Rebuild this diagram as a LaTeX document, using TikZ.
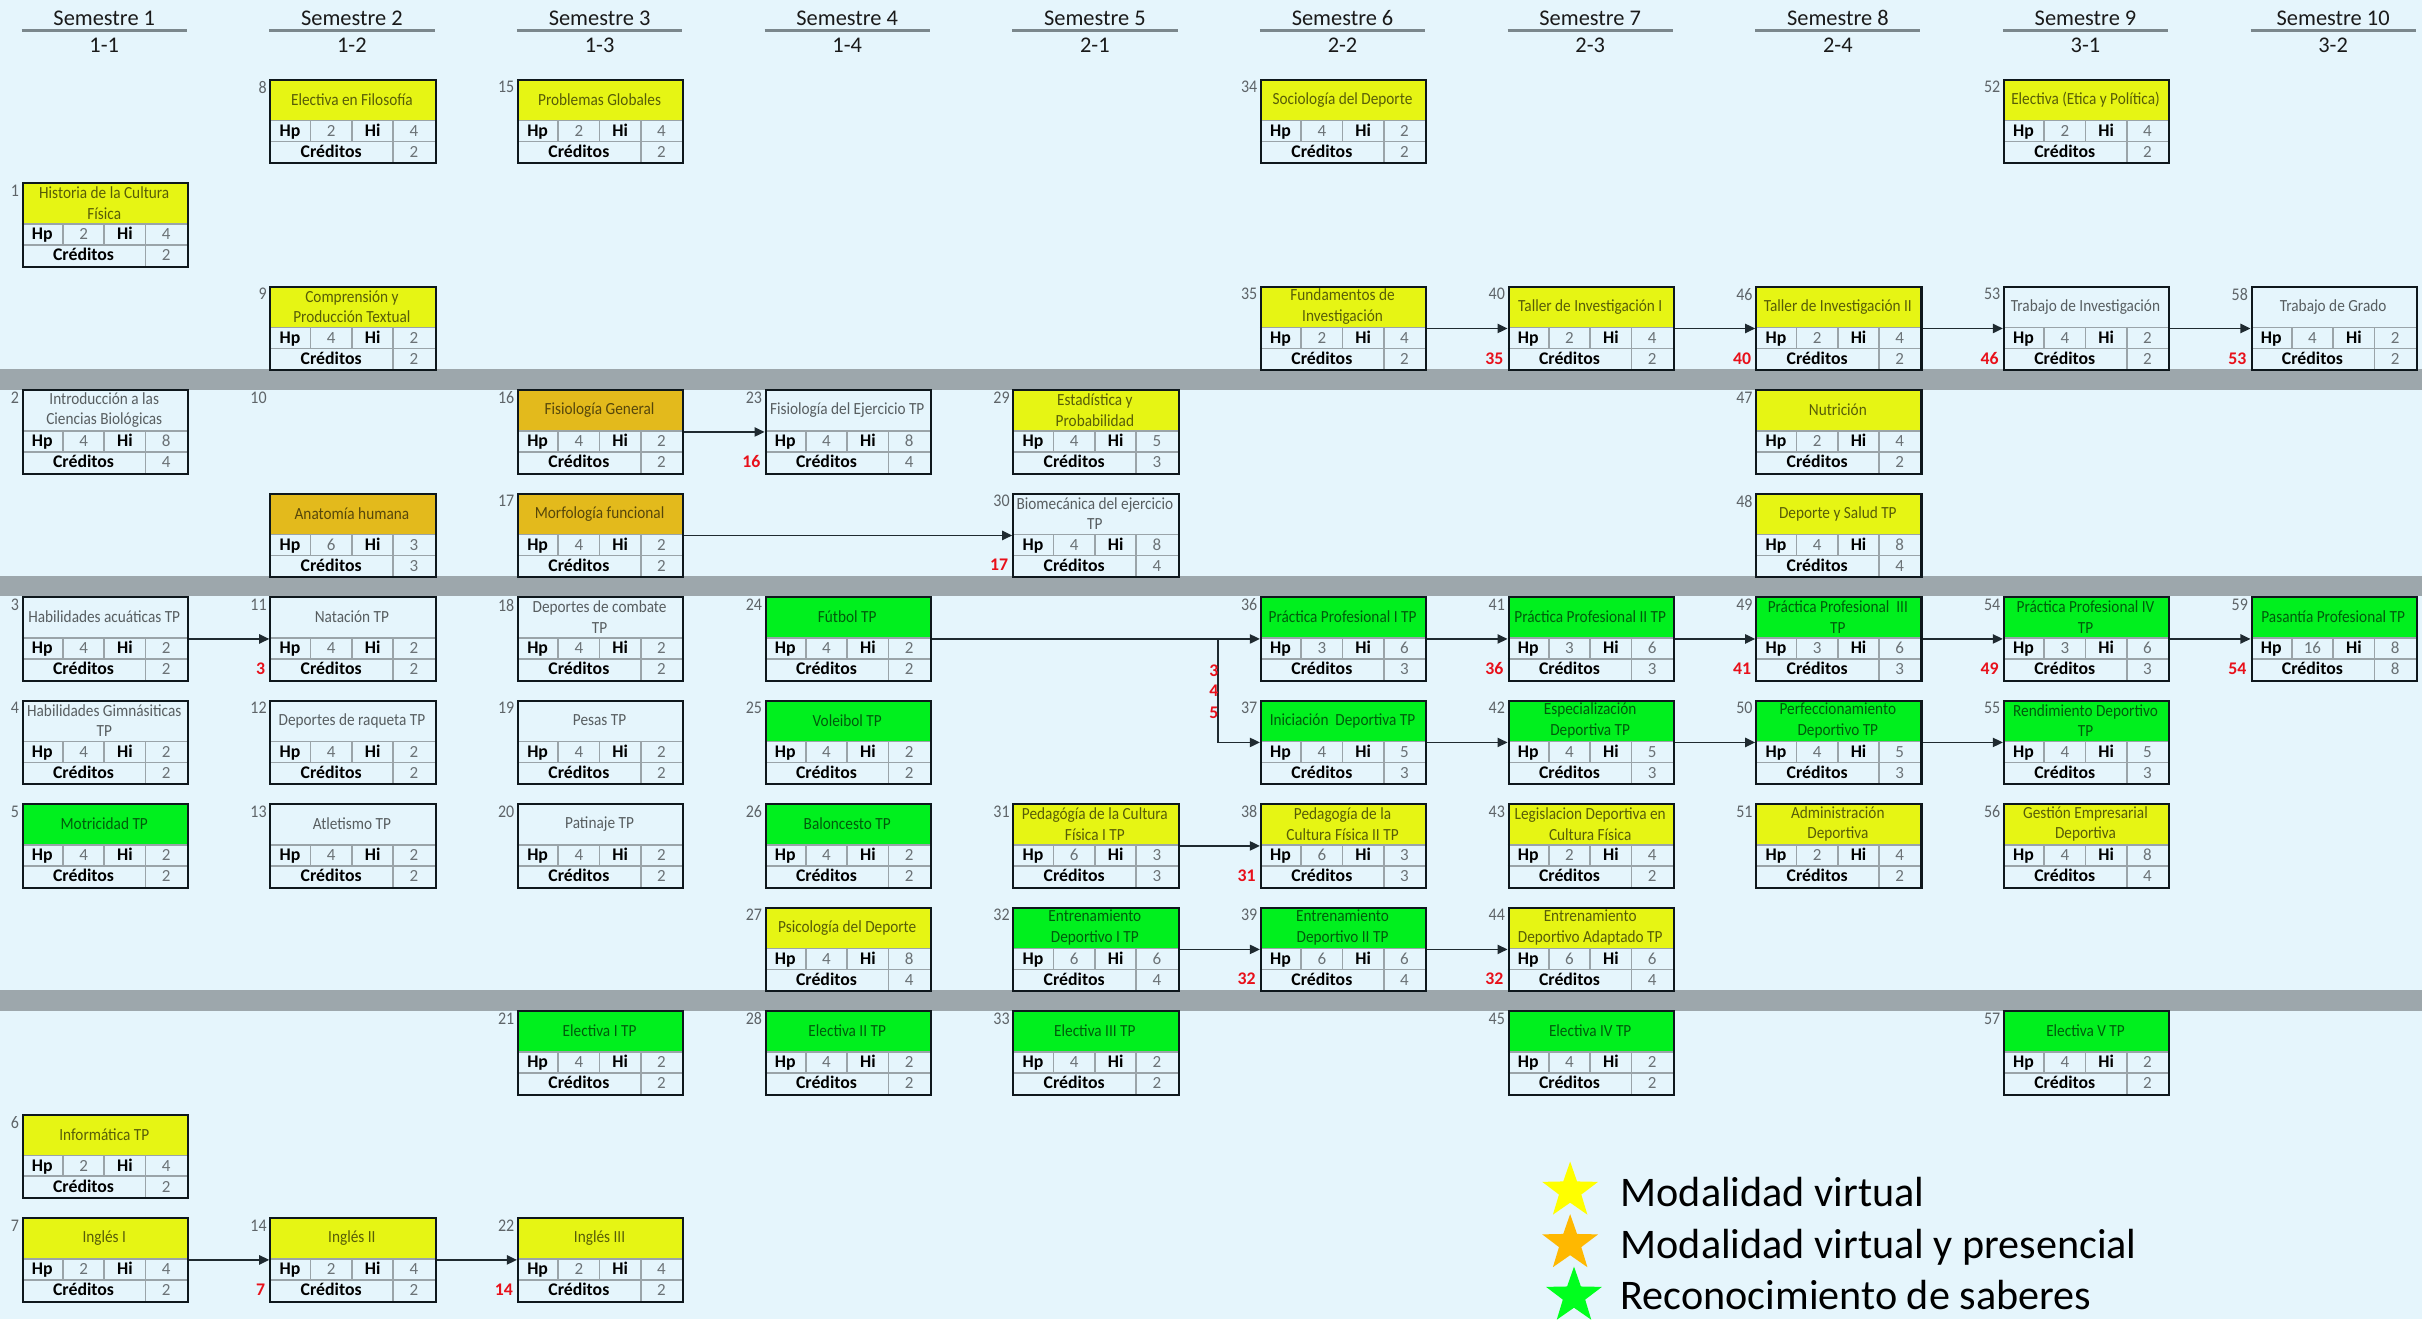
\documentclass[tikz,border=0pt]{standalone}
\usepackage{fontspec}
\setmainfont{Carlito}
\newfontfamily\tfont[FakeStretch=0.9]{Carlito}
\usetikzlibrary{arrows.meta,shapes.geometric,calc}
\definecolor{bgc}{HTML}{E5F5FC}
\definecolor{bandc}{HTML}{9DA7AC}
\definecolor{yel}{HTML}{E6F514}
\definecolor{grn}{HTML}{00F01E}
\definecolor{org}{HTML}{E3BA1C}
\definecolor{innerc}{HTML}{9AA4A9}
\definecolor{boxline}{HTML}{0E171C}
\definecolor{arrowc}{HTML}{1F2A30}
\definecolor{hdlc}{HTML}{7B878C}
\definecolor{valc}{HTML}{6B7276}
\definecolor{lblc}{HTML}{5E6468}
\definecolor{prered}{HTML}{E8101A}
\definecolor{hdrc}{HTML}{1A1A1A}
\definecolor{sy}{HTML}{FFFF00}
\definecolor{so}{HTML}{FFB800}
\definecolor{sg}{HTML}{00FF1E}
\tikzset{
 box/.style={draw=boxline,line width=1.3pt,minimum width=107pt,minimum height=54pt,inner sep=0pt},
 cellline/.style={draw=innerc,line width=1pt},
 ttl/.style={font=\tfont\fontsize{11}{13.2}\selectfont,text=black,text opacity=0.62,align=center,inner sep=0pt},
 hd/.style={font=\bfseries\fontsize{11.5}{13}\selectfont,text=black,inner sep=0pt,anchor=base},
 val/.style={font=\fontsize{11}{13}\selectfont,text=valc,inner sep=0pt,anchor=base},
 lbl/.style={font=\tfont\fontsize{11.5}{13}\selectfont,text=lblc,inner sep=0pt,anchor=north east},
 pre/.style={font=\bfseries\fontsize{11.5}{13}\selectfont,text=prered,inner sep=0pt,anchor=base east},
 arr/.style={draw=arrowc,line width=1pt,-{Triangle[length=6.5pt,width=6pt]}},
 hdr/.style={font=\fontsize{14.5}{16}\selectfont,text=hdrc,inner sep=0pt,anchor=base},
 hdl/.style={draw=hdlc,line width=2pt},
 leg/.style={font=\fontsize{27.3}{30}\selectfont,text=black,inner sep=0pt,anchor=base west},
 legstar/.style={star,star points=5,star point ratio=2.5,inner sep=0pt,minimum size=38pt,draw=none},
}
% #1 name, #2 label, #3 column, #4 row, #5 colour, #6 title, #7 Hp, #8 Hi, #9 creditos
\newcommand\subj[9]{%
 \pgfmathsetmacro\cx{14+160.33*(#3-1)}%
 \pgfmathsetmacro\cy{51+67*#4}%
 \begin{scope}[shift={(\cx,\cy)}]
  \fill[bgc] (0,0) rectangle (107,54);
  \fill[#5] (0,0) rectangle (107,27);
  \draw[cellline] (0,27) -- (107,27) (0,40.5) -- (107,40.5)
    (26.75,27) -- (26.75,40.5) (53.5,27) -- (53.5,40.5) (80.25,27) -- (80.25,54);
  \node[ttl] (#1t) at (53.5,13.5) {#6};
  \node[hd] (#1a) at (13.4,37.3) {Hp};
  \node[val] (#1b) at (40.1,37.3) {#7};
  \node[hd] (#1c) at (66.9,37.3) {Hi};
  \node[val] (#1d) at (93.6,37.3) {#8};
  \node[hd] (#1e) at (40.1,50.8) {Créditos};
  \node[val] (#1f) at (93.6,50.8) {#9};
 \end{scope}
 \node[box,anchor=north west] (#1) at (\cx,\cy) {};
 \node[lbl] (#1l) at (\cx-1.5,\cy+1.5) {#2};
}
\begin{document}
\begin{tikzpicture}[x=1pt,y=-1pt]
\fill[bgc] (0,0) rectangle (1568,854);
\useasboundingbox (0,0) rectangle (1568,854);
% bands
\fill[bandc] (0,239) rectangle (1568,252.5);
\fill[bandc] (0,373) rectangle (1568,386);
\fill[bandc] (0,641) rectangle (1568,654.5);
% headers
\foreach \i/\c in {1/1-1,2/1-2,3/1-3,4/1-4,5/2-1,6/2-2,7/2-3,8/2-4,9/3-1,10/3-2}{
  \pgfmathsetmacro\hx{14+160.33*(\i-1)}
  \node[hdr] (h\i) at (\hx+53.5,16.8) {Semestre \i};
  \draw[hdl] (\hx,19.5) -- ++(107,0);
  \node[hdr] (k\i) at (\hx+53.5,34.3) {\c};
}
% semester 1
\subj{c1}{1}{1}{1}{yel}{Historia de la Cultura\\Física}{2}{4}{2}
\subj{c2}{2}{1}{3}{bgc}{Introducción a las\\Ciencias Biológicas}{4}{8}{4}
\subj{c3}{3}{1}{5}{bgc}{Habilidades acuáticas TP}{4}{2}{2}
\subj{c4}{4}{1}{6}{bgc}{Habilidades Gimnásiticas\\TP}{4}{2}{2}
\subj{c5}{5}{1}{7}{grn}{Motricidad TP}{4}{2}{2}
\subj{c6}{6}{1}{10}{yel}{Informática TP}{2}{4}{2}
\subj{c7}{7}{1}{11}{yel}{Inglés I}{2}{4}{2}
% semester 2
\subj{c8}{8}{2}{0}{yel}{Electiva en Filosofía}{2}{4}{2}
\subj{c9}{9}{2}{2}{yel}{Comprensión y\\Producción Textual}{4}{2}{2}
\node[lbl] (l10) at (172.8,253.5) {10};
\subj{anat}{}{2}{4}{org}{Anatomía humana}{6}{3}{3}
\subj{c11}{11}{2}{5}{bgc}{Natación TP}{4}{2}{2}
\subj{c12}{12}{2}{6}{bgc}{Deportes de raqueta TP}{4}{2}{2}
\subj{c13}{13}{2}{7}{bgc}{Atletismo TP}{4}{2}{2}
\subj{c14}{14}{2}{11}{yel}{Inglés II}{2}{4}{2}
% semester 3
\subj{c15}{15}{3}{0}{yel}{Problemas Globales}{2}{4}{2}
\subj{c16}{16}{3}{3}{org}{Fisiología General}{4}{2}{2}
\subj{c17}{17}{3}{4}{org}{Morfología funcional}{4}{2}{2}
\subj{c18}{18}{3}{5}{bgc}{Deportes de combate\\TP}{4}{2}{2}
\subj{c19}{19}{3}{6}{bgc}{Pesas TP}{4}{2}{2}
\subj{c20}{20}{3}{7}{bgc}{Patinaje TP}{4}{2}{2}
\subj{c21}{21}{3}{9}{grn}{Electiva I TP}{4}{2}{2}
\subj{c22}{22}{3}{11}{yel}{Inglés III}{2}{4}{2}
% semester 4
\subj{c23}{23}{4}{3}{bgc}{Fisiología del Ejercicio TP}{4}{8}{4}
\subj{c24}{24}{4}{5}{grn}{Fútbol TP}{4}{2}{2}
\subj{c25}{25}{4}{6}{grn}{Voleibol TP}{4}{2}{2}
\subj{c26}{26}{4}{7}{grn}{Baloncesto TP}{4}{2}{2}
\subj{c27}{27}{4}{8}{yel}{Psicología del Deporte}{4}{8}{4}
\subj{c28}{28}{4}{9}{grn}{Electiva II TP}{4}{2}{2}
% semester 5
\subj{c29}{29}{5}{3}{yel}{Estadística y\\Probabilidad}{4}{5}{3}
\subj{c30}{30}{5}{4}{bgc}{Biomecánica del ejercicio\\TP}{4}{8}{4}
\subj{c31}{31}{5}{7}{yel}{Pedagógía de la Cultura\\Física I TP}{6}{3}{3}
\subj{c32}{32}{5}{8}{grn}{Entrenamiento\\Deportivo I TP}{6}{6}{4}
\subj{c33}{33}{5}{9}{grn}{Electiva III TP}{4}{2}{2}
% semester 6
\subj{c34}{34}{6}{0}{yel}{Sociología del Deporte}{4}{2}{2}
\subj{c35}{35}{6}{2}{yel}{Fundamentos de\\Investigación}{2}{4}{2}
\subj{c36}{36}{6}{5}{grn}{Práctica Profesional I TP}{3}{6}{3}
\subj{c37}{37}{6}{6}{grn}{Iniciación\ \ Deportiva TP}{4}{5}{3}
\subj{c38}{38}{6}{7}{yel}{Pedagogía de la\\Cultura Física II TP}{6}{3}{3}
\subj{c39}{39}{6}{8}{grn}{Entrenamiento\\Deportivo II TP}{6}{6}{4}
% semester 7
\subj{c40}{40}{7}{2}{yel}{Taller de Investigación I}{2}{4}{2}
\subj{c41}{41}{7}{5}{grn}{Práctica Profesional II TP}{3}{6}{3}
\subj{c42}{42}{7}{6}{grn}{Especialización\\Deportiva TP}{4}{5}{3}
\subj{c43}{43}{7}{7}{yel}{Legislacion Deportiva en\\Cultura Física}{2}{4}{2}
\subj{c44}{44}{7}{8}{yel}{Entrenamiento\\Deportivo Adaptado TP}{6}{6}{4}
\subj{c45}{45}{7}{9}{grn}{Electiva IV TP}{4}{2}{2}
% semester 8
\subj{c46}{46}{8}{2}{yel}{Taller de Investigación II}{2}{4}{2}
\subj{c47}{47}{8}{3}{yel}{Nutrición}{2}{4}{2}
\subj{c48}{48}{8}{4}{yel}{Deporte y Salud TP}{4}{8}{4}
\subj{c49}{49}{8}{5}{grn}{Práctica Profesional\ \ III\\TP}{3}{6}{3}
\subj{c50}{50}{8}{6}{grn}{Perfeccionamiento\\Deportivo TP}{4}{5}{3}
\subj{c51}{51}{8}{7}{yel}{Administración\\Deportiva}{2}{4}{2}
% semester 9
\subj{c52}{52}{9}{0}{yel}{Electiva (Etica y Política)}{2}{4}{2}
\subj{c53}{53}{9}{2}{bgc}{Trabajo de Investigación}{4}{2}{2}
\subj{c54}{54}{9}{5}{grn}{Práctica Profesional IV\\TP}{3}{6}{3}
\subj{c55}{55}{9}{6}{grn}{Rendimiento Deportivo\\TP}{4}{5}{3}
\subj{c56}{56}{9}{7}{yel}{Gestión Empresarial\\Deportiva}{4}{8}{4}
\subj{c57}{57}{9}{9}{grn}{Electiva V TP}{4}{2}{2}
% semester 10
\subj{c58}{58}{10}{2}{bgc}{Trabajo de Grado}{4}{2}{2}
\subj{c59}{59}{10}{5}{grn}{Pasantía Profesional TP}{16}{8}{8}
% connectors
\draw[arr] (c3) -- (c11);
\draw[arr] (c7) -- (c14);
\draw[arr] (c14) -- (c22);
\draw[arr] (c16) -- (c23);
\draw[arr] (c17) -- (c30);
\draw[arr] (c24.east) -- (c36.west);
\coordinate (br) at ([xshift=-27pt]c36.west);
\draw[arr] (br) |- (c37.west);
\draw[arr] (c35) -- (c40);
\draw[arr] (c40) -- (c46);
\draw[arr] (c46) -- (c53);
\draw[arr] (c53) -- (c58);
\draw[arr] (c36) -- (c41);
\draw[arr] (c41) -- (c49);
\draw[arr] (c49) -- (c54);
\draw[arr] (c54) -- (c59);
\draw[arr] (c37) -- (c42);
\draw[arr] (c42) -- (c50);
\draw[arr] (c50) -- (c55);
\draw[arr] (c31) -- (c38);
\draw[arr] (c32) -- (c39);
\draw[arr] (c39) -- (c44);
% prerequisite numbers
\foreach \n/\v in {c11/3,c14/7,c22/14,c23/16,c30/17,c40/35,c46/40,c53/46,c58/53,c41/36,c49/41,c54/49,c59/54,c38/31,c39/32,c44/32}{
  \node[pre] (p\n) at ([xshift=-2.5pt,yshift=-23pt]\n.west) {\v};
}
\node[pre] (q3) at (789,438) {3};
\node[pre] (q4) at (789,451) {4};
\node[pre] (q5) at (789,465) {5};
% legend
\node[legstar,fill=sy] (s1) at (1016.5,771) {};
\node[legstar,fill=so] (s2) at (1016.5,805) {};
\node[legstar,fill=sg] (s3) at (1019,839) {};
\node[leg] (t1) at (1049,781) {Modalidad virtual};
\node[leg] (t2) at (1049,815) {Modalidad virtual y presencial};
\node[leg] (t3) at (1049,848) {Reconocimiento de saberes};
\end{tikzpicture}
\end{document}
